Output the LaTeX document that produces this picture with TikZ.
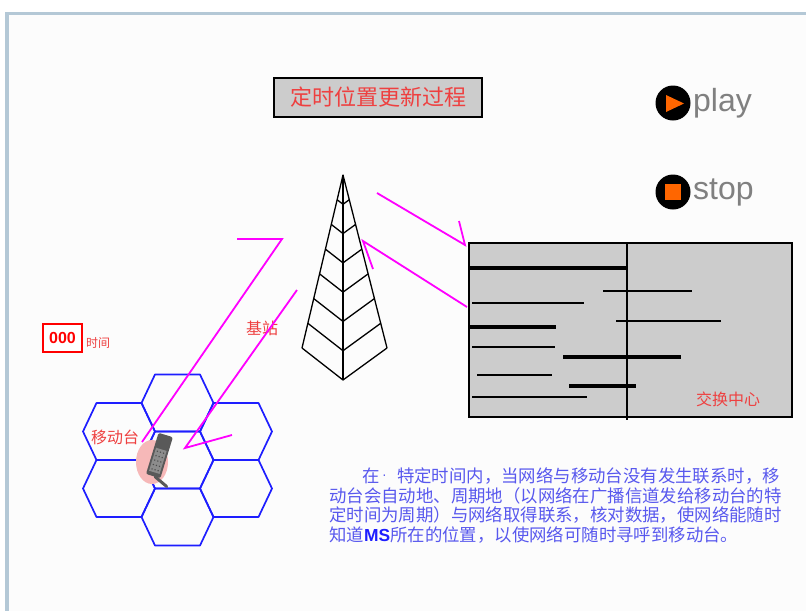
\documentclass[tikz,border=0pt]{standalone}
\usepackage{fontspec}
\setsansfont{Liberation Sans}
\newfontfamily\cjk{Noto Sans CJK SC}
\usetikzlibrary{positioning}

\definecolor{framegray}{RGB}{180,200,214}
\definecolor{boxgray}{RGB}{204,204,204}
\definecolor{labelred}{RGB}{238,64,64}
\definecolor{radiopink}{RGB}{255,0,255}
\definecolor{cellblue}{RGB}{30,30,255}
\definecolor{textblue}{RGB}{88,88,238}
\definecolor{btnorange}{RGB}{255,102,0}
\definecolor{halo}{RGB}{246,184,184}

\begin{document}
\begin{tikzpicture}[x=1pt, y=-1pt, semithick,
    radio/.style={draw=radiopink, line width=1.8pt},
    cell/.style={draw=cellblue, line width=1.7pt, line join=round},
    mast/.style={line width=1.3pt, line join=round},
    tag/.style={text=labelred, font=\cjk\fontsize{16}{18}\selectfont, inner sep=0pt},
    button/.style={circle, fill=black, minimum size=35pt, inner sep=0pt},
    btntext/.style={right=2pt of #1, inner sep=0pt, text=black!50, font=\sffamily\fontsize{32}{32}\selectfont},
    noteline/.style={anchor=base west, inner sep=0pt, text=textblue, font=\cjk\fontsize{17.4}{19.7}\selectfont}]
    \useasboundingbox (0,0) rectangle (806,611);
    \fill[white] (0,0) rectangle (806,611);
    \fill[black!1] (5,12) rectangle (806,611);
    \fill[framegray] (5,12) rectangle (9,611);
    \fill[framegray] (5,12) rectangle (806,15);

    \node[draw, line width=1.5pt, fill=boxgray, minimum width=208pt, minimum height=39pt,
          text=labelred, font=\cjk\fontsize{22}{24}\selectfont] (title) at (378,97.5) {定时位置更新过程};

    \node[button] (play) at (673,103) {};
    \fill[btnorange] (666,95) -- (684,103.5) -- (666,112) -- cycle;
    \node[btntext=play] (playtext) {play};
    \node[button] (stop) at (673,192) {};
    \fill[btnorange] (665,184) rectangle (681,200);
    \node[btntext=stop] (stoptext) {stop};

    % base station mast
    \draw[mast] (302,348) -- (343,175) -- (387,348);
    \draw[mast] (343,175) -- (343,380);
    \foreach \k in {1,...,7}
        \draw[mast] ({343-41*\k/7},{175+173*\k/7}) -- (343,{175+205*\k/7}) -- ({343+44*\k/7},{175+173*\k/7});
    \node[tag] (bts) at (262,328) {基站};

    % switching centre
    \node[draw, line width=1.3pt, fill=boxgray, minimum width=323pt, minimum height=174pt, inner sep=0pt] (msc) at (630.5,330) {};
    \draw[line width=1.3pt] (627,243) -- (627,420);
    \foreach \xa/\xb/\yy/\w in {470/627/268/3.2, 603/692/291/1.3, 472/584/303/1.3, 616/721/321/1.3,
                                470/556/327/3.2, 472/555/347/1.3, 563/681/357/3.2, 477/552/375/1.3,
                                569/636/386/3.2, 472/587/397/1.3}
        \draw[line width=\w pt] (\xa,\yy) -- (\xb,\yy);
    \node[tag] (msclabel) at (728,399) {交换中心};

    % cells
    \foreach \cx/\cy in {177.5/403, 177.5/460, 177.5/517, 119/431.5, 119/488.5, 236/431.5, 236/488.5}
        \draw[cell, shift={(\cx,\cy)}] (-22.5,-28.5) -- (22.5,-28.5) -- (36,0) -- (22.5,28.5) -- (-22.5,28.5) -- (-36,0) -- cycle;

    % mobile station
    \fill[halo] (152,462) ellipse [x radius=16, y radius=22];
    \begin{scope}[shift={(159,457)}, rotate=-17]
        \fill[black!65, rounded corners=2pt] (-7.5,-23) rectangle (7.5,20);
        \fill[black!45] (-5.5,-8) rectangle (5.5,16);
        \foreach \r in {0,...,4}
            \foreach \c in {-1,0,1}
                \fill[black!70] ({\c*3.2},{-5+\r*4.6}) circle (0.8);
        \draw[black!65, line width=3pt, line cap=round] (2,20) -- (16,26);
    \end{scope}
    \node[tag] (ms) at (115,437) {移动台};

    % signalling
    \draw[radio] (237,239) -- (282,239) -- (142,442);
    \draw[radio] (297,290) -- (185,448) -- (232,435);
    \draw[radio] (377,193) -- (465,245) -- (459,221);
    \draw[radio] (467,307) -- (363,241) -- (373,269);

    \node[draw=red, line width=1.5pt, fill=white, minimum width=39pt, minimum height=28pt, inner sep=0pt,
          text=red, font=\sffamily\bfseries\fontsize{16}{16}\selectfont] (clock) at (62.5,338) {000};
    \node[right=3pt of clock.south east, anchor=south west, inner sep=0pt, yshift=4pt,
          text=labelred, font=\cjk\fontsize{12}{12}\selectfont] (clocktext) {时间};

    \node[noteline] (note1) at (362,482) {在\makebox[1em][l]{\raisebox{3pt}{\sffamily\fontsize{14}{14}\selectfont\,·}}特定时间内，当网络与移动台没有发生联系时，移};
    \node[noteline] (note2) at (329,502) {动台会自动地、周期地（以网络在广播信道发给移动台的特};
    \node[noteline] (note3) at (329,521.5) {定时间为周期）与网络取得联系，核对数据，使网络能随时};
    \node[noteline] (note4) at (329,541) {知道{\sffamily\bfseries\color{cellblue}MS}所在的位置，以使网络可随时寻呼到移动台。};
\end{tikzpicture}
\end{document}
